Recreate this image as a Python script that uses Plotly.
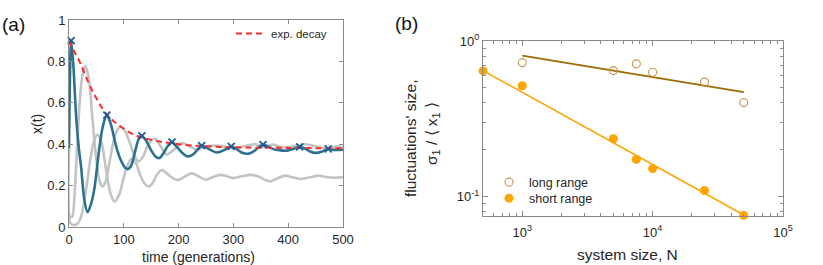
import plotly.graph_objects as go

# ---------------- Panel (a) data ----------------
t_blue = [0, 4, 8, 13, 18, 22, 28, 34, 40, 46, 55, 62, 69, 76, 86, 95, 103, 108, 114, 122,
          128, 133, 140, 150, 158, 165, 172, 180, 188, 196, 206, 216, 226, 235, 242, 250,
          260, 270, 282, 290, 296, 304, 315, 327, 337, 346, 354, 362, 374, 386, 398, 410,
          421, 430, 440, 450, 462, 473, 485, 500]
x_blue = [0.38, 0.90, 0.78, 0.535, 0.38, 0.293, 0.131, 0.071, 0.11, 0.18, 0.374, 0.49, 0.54,
          0.50, 0.39, 0.32, 0.285, 0.28, 0.30, 0.38, 0.43, 0.44, 0.42, 0.37, 0.34, 0.333,
          0.355, 0.39, 0.41, 0.39, 0.36, 0.341, 0.35, 0.375, 0.393, 0.385, 0.37, 0.36, 0.37,
          0.382, 0.39, 0.38, 0.36, 0.354, 0.365, 0.385, 0.398, 0.39, 0.375, 0.37, 0.369,
          0.378, 0.387, 0.38, 0.365, 0.358, 0.365, 0.377, 0.372, 0.374]

t_peaks = [4, 69, 133, 188, 242, 296, 354, 421, 473]
x_peaks = [0.90, 0.54, 0.44, 0.41, 0.393, 0.39, 0.398, 0.387, 0.377]

t_grayA = [0, 2, 6, 10, 15, 20, 25, 30, 36, 42, 50, 56, 61, 67, 75, 85, 95, 103, 112, 120,
           127, 135, 145, 157, 167, 178, 190, 206, 220, 233, 252, 275, 300, 320, 340, 355,
           371, 390, 410, 430, 450, 470, 490, 500]
x_grayA = [0.38, 0.05, 0.05, 0.15, 0.40, 0.62, 0.74, 0.778, 0.72, 0.55, 0.32, 0.22, 0.196,
           0.22, 0.33, 0.45, 0.487, 0.46, 0.40, 0.34, 0.317, 0.34, 0.40, 0.427, 0.39, 0.35,
           0.37, 0.406, 0.39, 0.374, 0.39, 0.392, 0.38, 0.39, 0.40, 0.385, 0.398, 0.385,
           0.39, 0.40, 0.39, 0.38, 0.39, 0.385]

t_grayB = [0, 2, 8, 15, 22, 30, 38, 45, 52, 60, 68, 76, 83, 92, 100, 107, 114, 122, 130, 138,
           145, 152, 160, 169, 178, 190, 200, 212, 224, 236, 249, 262, 276, 288, 300, 315,
           331, 345, 356, 367, 380, 395, 408, 422, 440, 456, 471, 485, 500]
x_grayB = [0.38, 0.02, 0.01, 0.015, 0.05, 0.16, 0.31, 0.41, 0.447, 0.40, 0.27, 0.16, 0.123,
           0.16, 0.24, 0.30, 0.33, 0.31, 0.25, 0.21, 0.196, 0.21, 0.25, 0.275, 0.26, 0.235,
           0.228, 0.245, 0.26, 0.245, 0.228, 0.24, 0.252, 0.245, 0.236, 0.245, 0.252, 0.245,
           0.23, 0.22, 0.235, 0.248, 0.24, 0.232, 0.24, 0.248, 0.24, 0.238, 0.241]

t_decay = [0, 5, 20, 35, 51, 69, 93, 118, 148, 200, 250, 300, 400, 500]
x_decay = [0.90, 0.87, 0.795, 0.70, 0.617, 0.544, 0.487, 0.447, 0.422, 0.40, 0.39, 0.385,
           0.382, 0.38]

a_xticks = [0, 100, 200, 300, 400, 500]
a_yticks = [0, 0.2, 0.4, 0.6, 0.8, 1]
a_yticktext = ["0", "0.2", "0.4", "0.6", "0.8", "1"]

# ---------------- Panel (b) data ----------------
N_long = [1000, 5000, 7500, 10000, 25000, 50000]
y_long = [0.726, 0.645, 0.713, 0.63, 0.544, 0.402]
N_short = [500, 1000, 5000, 7500, 10000, 25000, 50000]
y_short = [0.642, 0.515, 0.235, 0.173, 0.151, 0.109, 0.0755]
fit_long_N = [1000, 50000]
fit_long_y = [0.805, 0.469]
fit_short_N = [500, 50000]
fit_short_y = [0.645, 0.076]

b_xticks = [1e3, 1e4, 1e5]
b_xticktext = ["10<sup>3</sup>", "10<sup>4</sup>", "10<sup>5</sup>"]
b_yticks = [0.1, 1]
b_yticktext = ["10<sup>-1</sup>", "10<sup>0</sup>"]
b_xminor = [600, 700, 800, 900, 2000, 3000, 4000, 5000, 6000, 7000, 8000, 9000,
            20000, 30000, 40000, 50000, 60000, 70000, 80000, 90000]
b_yminor = [0.08, 0.09, 0.2, 0.3, 0.4, 0.5, 0.6, 0.7, 0.8, 0.9]

FONT = "Liberation Sans, Arial, sans-serif"
TICKC = "#262626"
FRAME = "#8a8a8a"
GRAY = "#c3c3c3"
BLUE = "#2c7190"
RED = "#ff2a2a"
ORANGE = "#ffa500"
BROWN = "#9c6a00"
BROWN_M = "#c4954a"

W, H = 823, 265


def px(x):
    return x / W


def py(y):
    return (H - y) / H


fig = go.Figure()

for tt, xx in [(t_grayA, x_grayA), (t_grayB, x_grayB)]:
    fig.add_trace(go.Scatter(x=tt, y=xx, mode="lines", xaxis="x", yaxis="y",
                             line=dict(color=GRAY, width=2.6, shape="spline", smoothing=0.8),
                             showlegend=False, hoverinfo="skip"))

fig.add_trace(go.Scatter(x=t_blue, y=x_blue, mode="lines", xaxis="x", yaxis="y",
                         line=dict(color=BLUE, width=2.6, shape="spline", smoothing=0.8),
                         showlegend=False))
fig.add_trace(go.Scatter(x=t_decay, y=x_decay, mode="lines", xaxis="x", yaxis="y",
                         line=dict(color=RED, width=2, dash="6px,4px", shape="spline"),
                         name="exp. decay", legend="legend"))
fig.add_trace(go.Scatter(x=t_peaks, y=x_peaks, mode="markers", xaxis="x", yaxis="y",
                         marker=dict(symbol="x-thin", size=7,
                                     line=dict(color="#1d5c9a", width=1.8)),
                         showlegend=False, cliponaxis=False))

# panel b
fig.add_trace(go.Scatter(x=fit_long_N, y=fit_long_y, mode="lines", xaxis="x2", yaxis="y2",
                         line=dict(color=BROWN, width=1.6), showlegend=False))
fig.add_trace(go.Scatter(x=fit_short_N, y=fit_short_y, mode="lines", xaxis="x2", yaxis="y2",
                         line=dict(color=ORANGE, width=1.6), showlegend=False))
fig.add_trace(go.Scatter(x=N_long, y=y_long, mode="markers", xaxis="x2", yaxis="y2",
                         marker=dict(symbol="circle-open", size=8,
                                     line=dict(color=BROWN_M, width=1.1), color=BROWN_M),
                         name="long range", legend="legend2", cliponaxis=False))
fig.add_trace(go.Scatter(x=N_short, y=y_short, mode="markers", xaxis="x2", yaxis="y2",
                         marker=dict(symbol="circle", size=9, color=ORANGE),
                         name="short range", legend="legend3", cliponaxis=False))

axis_common = dict(showline=True, linecolor=FRAME, linewidth=1, mirror="ticks",
                   ticks="inside", tickcolor=FRAME, showgrid=False, zeroline=False,
                   automargin=False,
                   tickfont=dict(family=FONT, size=13, color=TICKC))

leg_common = dict(xanchor="left", yanchor="top", bgcolor="rgba(0,0,0,0)", borderwidth=0)

fig.update_layout(
    width=W, height=H,
    margin=dict(l=0, r=0, t=0, b=0, autoexpand=False),
    paper_bgcolor="white", plot_bgcolor="white",
    font=dict(family=FONT, color=TICKC),
    xaxis=dict(domain=[px(69), px(343)], range=[0, 500], tickvals=a_xticks,
               ticklen=4, anchor="y", **axis_common),
    yaxis=dict(domain=[py(227), py(20)], range=[0, 1], tickvals=a_yticks,
               ticktext=a_yticktext, ticklen=4, anchor="x", **axis_common),
    xaxis2=dict(domain=[px(483), px(783)], type="log", range=[2.69897, 5],
                tickmode="array", tickvals=b_xticks, ticktext=b_xticktext, ticklen=5,
                ticklabelstandoff=4,
                minor=dict(tickmode="array", tickvals=b_xminor, ticks="inside", ticklen=3,
                           tickcolor=FRAME),
                anchor="y2", **axis_common),
    yaxis2=dict(domain=[py(216), py(41)], type="log", range=[-1.126, 0],
                tickmode="array", tickvals=b_yticks, ticktext=b_yticktext, ticklen=5,
                minor=dict(tickmode="array", tickvals=b_yminor, ticks="inside", ticklen=3,
                           tickcolor=FRAME),
                anchor="x2", **axis_common),
    legend=dict(x=px(231), y=py(19), font=dict(family=FONT, size=11.5, color=TICKC),
                **leg_common),
    legend2=dict(x=px(489), y=py(167.5), font=dict(family=FONT, size=12.5, color=TICKC),
                 **leg_common),
    legend3=dict(x=px(489), y=py(183.5), font=dict(family=FONT, size=12.5, color=TICKC),
                 **leg_common),
)

ann = [
    dict(text="(a)", x=px(13), y=py(25), font=dict(size=19, color="#111")),
    dict(text="(b)", x=px(406), y=py(24), font=dict(size=19, color="#111")),
    dict(text="x(t)", x=px(37), y=py(124), textangle=-90, font=dict(size=14, color=TICKC)),
    dict(text="time (generations)", x=px(198), y=py(257), font=dict(size=14, color=TICKC)),
    dict(text="system size, N", x=px(627), y=py(254), font=dict(size=15.5, color=TICKC)),
    dict(text="fluctuations' size,", x=px(410), y=py(138), textangle=-90,
         font=dict(size=15.5, color=TICKC)),
    dict(text="σ<sub>1</sub> / ⟨ x<sub>1</sub> ⟩", x=px(432), y=py(134), textangle=-90,
         font=dict(size=15.5, color=TICKC)),
]
for a in ann:
    a.update(xref="paper", yref="paper", showarrow=False, xanchor="center", yanchor="middle")
    a["font"]["family"] = FONT
    fig.add_annotation(**a)

fig.write_html("out.html", config={"displayModeBar": False},
               post_script="document.body.style.margin='0px';")
